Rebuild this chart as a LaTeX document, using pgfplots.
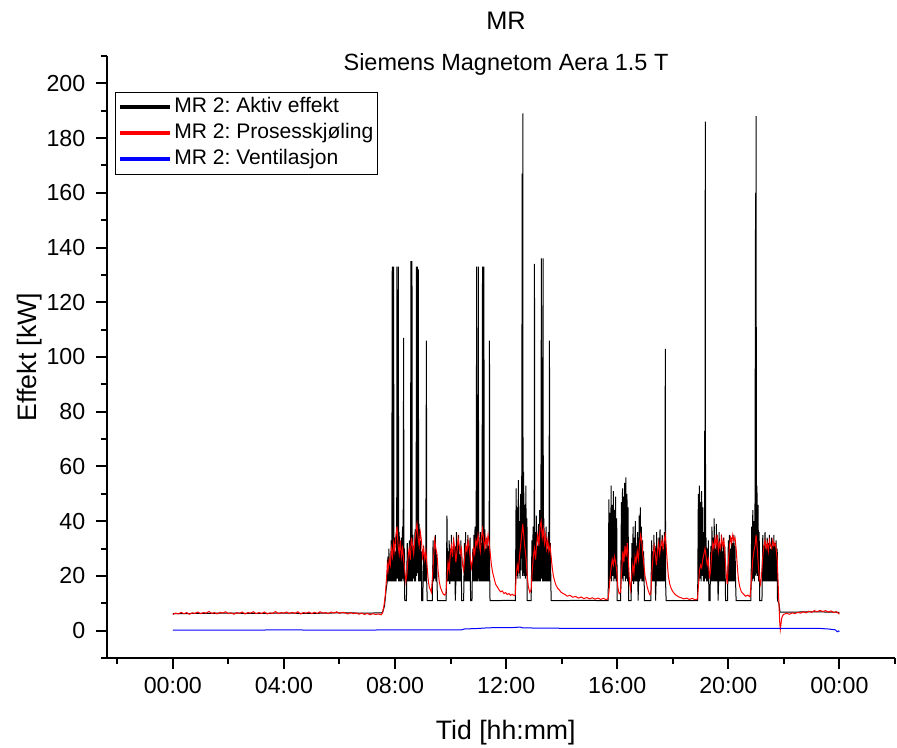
\documentclass[border=0pt]{standalone}
\usepackage{fontspec}
\setmainfont{Liberation Sans}
\usepackage{pgfplots}
\pgfplotsset{compat=1.18}
\frenchspacing

\begin{document}
\begin{tikzpicture}
\useasboundingbox (0,0) rectangle (672.75pt,560.25pt);
% titles
\node[anchor=base, font=\fontsize{19}{22}\selectfont] at (379.5pt,537.75pt) {MR};
\node[anchor=base, font=\fontsize{17.6}{20}\selectfont] at (379.5pt,507pt) {Siemens Magnetom Aera 1.5 T};
\begin{axis}[
    at={(80.25pt,66.75pt)}, anchor=south west,
    scale only axis, width=591pt, height=451.5pt,
    xmin=-2.37, xmax=26, ymin=-10, ymax=210,
    axis lines=left,
    axis line style={-, line width=1.5pt},
    tick style={line width=1.5pt, black},
    tick align=outside,
    major tick length=8.25pt, minor tick length=4.5pt,
    xtick={0,4,...,24},
    xticklabels={00:00,04:00,08:00,12:00,16:00,20:00,00:00},
    minor xtick={-2,2,6,10,14,18,22,26},
    ytick={0,20,...,200},
    minor ytick={-10,10,...,210},
    tick label style={font=\fontsize{17.4}{20}\selectfont},
    xticklabel style={yshift=-3pt},
    yticklabel style={xshift=-4.5pt},
    /pgf/number format/assume math mode=true,
    xlabel={Tid [hh:mm]},
    ylabel={Effekt [kW]},
    label style={font=\fontsize{20}{24}\selectfont},
    xlabel style={at={(axis description cs:0.506,-0.136)}, anchor=base},
    ylabel style={at={(axis description cs:-0.090,0.5)}, anchor=base},
    legend style={at={(axis description cs:0.0102,0.941)}, anchor=north west,
        draw=black, line width=0.9pt, inner sep=1.5pt,
        font=\fontsize{15.8}{19}\selectfont,
        /tikz/column sep=0pt,
        nodes={text height=11.5pt, text depth=3.5pt, inner ysep=2.25pt, inner xsep=1.5pt}},
    legend cell align=left,
    legend image code/.code={\draw[#1, line width=3pt] (0pt,0pt) -- (38pt,0pt);},
]

% MR 2: Aktiv effekt
\addplot[black, line width=0.75pt] coordinates {
(0,6.2) (1,6.3) (2,6.4) (3,6.3) (4,6.4) (5,6.3) (6,6.5) (7,6.4) (7.5,6.5) (7.55,6.6)
(7.62,9) (7.68,15) (7.72,18)
(7.74,27) (7.76,18) (7.78,30) (7.80,18) (7.82,25) (7.84,18) (7.86,33) (7.88,18) (7.90,133) (7.91,18) (7.93,31) (7.95,133) (7.96,18) (7.98,34) (8.00,18) (8.02,29) (8.04,18) (8.06,31) (8.07,133) (8.08,19) (8.10,32) (8.12,133) (8.13,18) (8.15,36) (8.17,18) (8.19,30) (8.21,18) (8.23,34) (8.25,18) (8.27,38) (8.29,19) (8.31,107) (8.32,18) (8.34,30) (8.35,11) (8.41,11)
(8.42,18) (8.44,32) (8.46,18) (8.48,28) (8.50,18) (8.52,33) (8.54,18) (8.56,30) (8.57,135) (8.58,18) (8.60,29) (8.61,135) (8.62,18) (8.64,35) (8.66,19) (8.68,31) (8.70,18) (8.72,37) (8.74,18) (8.76,30) (8.77,133) (8.78,20) (8.80,133) (8.81,21) (8.83,33) (8.84,132) (8.85,18) (8.87,39) (8.89,18) (8.91,33) (8.93,18) (8.95,29) (8.96,11) (9.00,11)
(9.01,18) (9.03,31) (9.05,18) (9.07,27) (9.09,18) (9.11,30) (9.13,106) (9.14,18) (9.16,11) (9.34,11)
(9.35,18) (9.37,33) (9.39,18) (9.41,30) (9.43,19) (9.45,35) (9.47,18) (9.49,28) (9.51,18) (9.53,11) (9.84,11)
(9.85,18) (9.87,42) (9.89,18) (9.91,29) (9.93,18) (9.95,33) (9.97,17) (9.99,30) (10.01,18) (10.03,35) (10.05,18) (10.07,27) (10.09,18) (10.11,34) (10.13,18) (10.15,31) (10.17,11) (10.19,18) (10.21,36) (10.23,18) (10.25,30) (10.27,18) (10.29,35) (10.31,18) (10.33,28) (10.35,18) (10.37,33) (10.39,18) (10.40,11) (10.47,11)
(10.48,18) (10.50,32) (10.52,18) (10.54,36) (10.56,18) (10.58,29) (10.60,18) (10.62,35) (10.64,18) (10.66,31) (10.68,18) (10.70,34) (10.72,11) (10.77,11)
(10.78,18) (10.80,30) (10.82,18) (10.84,35) (10.86,18) (10.88,38) (10.90,18) (10.92,31) (10.94,133) (10.95,18) (10.97,34) (10.99,18) (11.00,133) (11.01,19) (11.03,30) (11.05,18) (11.07,36) (11.09,18) (11.11,32) (11.13,18) (11.15,133) (11.16,18) (11.18,35) (11.20,133) (11.21,18) (11.23,37) (11.25,18) (11.27,30) (11.29,18) (11.31,34) (11.33,18) (11.35,31) (11.37,18) (11.39,33) (11.40,106) (11.41,18) (11.42,11)
(11.8,11) (12.1,11.1) (12.33,11)
(12.34,20) (12.36,52) (12.38,20) (12.40,45) (12.42,19) (12.44,55) (12.46,21) (12.48,40) (12.50,19) (12.52,50) (12.54,22) (12.56,44) (12.58,167) (12.59,20) (12.60,189) (12.61,21) (12.63,58) (12.65,20) (12.67,46) (12.69,19) (12.71,53) (12.73,20) (12.75,41) (12.76,11) (12.90,11)
(12.91,18) (12.93,33) (12.95,18) (12.97,38) (12.99,18) (13.01,30) (13.02,134) (13.03,18) (13.05,36) (13.07,18) (13.09,42) (13.11,18) (13.13,31) (13.15,18) (13.17,39) (13.19,18) (13.21,44) (13.23,18) (13.25,35) (13.27,136) (13.28,19) (13.30,37) (13.31,18) (13.33,136) (13.34,18) (13.36,41) (13.38,18) (13.40,33) (13.42,18) (13.44,38) (13.46,18) (13.48,30) (13.50,18) (13.52,36) (13.54,18) (13.56,106) (13.57,18) (13.59,32) (13.61,18) (13.62,11)
(14.2,11) (14.8,11.1) (15.3,11) (15.67,11)
(15.68,18) (15.70,48) (15.72,18) (15.74,43) (15.76,19) (15.78,53) (15.80,18) (15.82,46) (15.84,20) (15.86,51) (15.88,18) (15.90,44) (15.92,19) (15.94,49) (15.96,18) (15.98,41) (16.00,11) (16.12,11)
(16.13,18) (16.15,47) (16.17,19) (16.19,52) (16.21,18) (16.23,49) (16.25,20) (16.27,54) (16.29,18) (16.31,56) (16.33,19) (16.35,50) (16.37,18) (16.39,45) (16.41,11) (16.50,11)
(16.51,18) (16.53,32) (16.55,18) (16.57,38) (16.59,17) (16.61,34) (16.63,18) (16.65,40) (16.67,18) (16.69,31) (16.71,18) (16.73,36) (16.75,11) (16.77,18) (16.79,42) (16.81,18) (16.83,45) (16.85,19) (16.87,38) (16.89,18) (16.91,33) (16.93,18) (16.95,29) (16.97,18) (16.98,11) (17.21,11)
(17.22,18) (17.24,33) (17.26,18) (17.28,29) (17.30,18) (17.32,35) (17.34,18) (17.36,31) (17.38,11) (17.40,18) (17.42,36) (17.44,18) (17.46,30) (17.48,18) (17.50,34) (17.52,18) (17.54,37) (17.56,18) (17.58,31) (17.60,18) (17.62,35) (17.64,18) (17.66,30) (17.68,18) (17.70,36) (17.72,18) (17.73,103) (17.74,18) (17.76,11)
(18.3,11) (18.89,11)
(18.90,18) (18.92,50) (18.94,18) (18.96,53) (18.98,19) (19.00,47) (19.02,18) (19.04,51) (19.06,20) (19.08,45) (19.10,18) (19.12,36) (19.14,18) (19.15,73) (19.16,20) (19.17,186) (19.18,19) (19.20,34) (19.22,18) (19.24,30) (19.26,18) (19.28,33) (19.30,11) (19.34,11)
(19.35,18) (19.37,31) (19.39,18) (19.41,38) (19.43,18) (19.45,34) (19.47,18) (19.49,41) (19.51,18) (19.53,30) (19.55,18) (19.57,39) (19.59,18) (19.61,33) (19.63,11) (19.65,18) (19.67,36) (19.69,18) (19.71,31) (19.73,18) (19.75,35) (19.77,18) (19.79,29) (19.81,18) (19.83,34) (19.85,18) (19.87,31) (19.89,18) (19.90,11) (19.97,11)
(19.98,18) (20.00,33) (20.02,18) (20.04,35) (20.06,18) (20.08,30) (20.10,18) (20.12,34) (20.14,18) (20.16,32) (20.18,18) (20.20,35) (20.22,18) (20.24,31) (20.26,18) (20.28,11)
(20.55,11) (20.81,11)
(20.82,18) (20.84,38) (20.86,18) (20.88,44) (20.90,19) (20.92,40) (20.94,18) (20.96,47) (20.98,160) (20.99,20) (21.00,188) (21.01,21) (21.03,53) (21.05,20) (21.07,46) (21.09,18) (21.11,36) (21.13,11) (21.21,11)
(21.22,18) (21.24,35) (21.26,18) (21.28,31) (21.30,18) (21.32,36) (21.34,18) (21.36,30) (21.38,18) (21.40,34) (21.42,18) (21.44,32) (21.46,18) (21.48,35) (21.50,18) (21.52,30) (21.54,18) (21.56,34) (21.58,18) (21.60,31) (21.62,18) (21.64,35) (21.66,18) (21.68,32) (21.70,18) (21.72,33) (21.74,18) (21.76,30) (21.77,11)
(21.82,10) (21.86,6.8) (22.5,6.8) (23,6.9) (23.5,6.8) (24,6.7)
};
\addlegendentry{MR 2: Aktiv effekt}

% MR 2: Prosesskjoling
\addplot[red, line width=0.75pt] coordinates {
(0,5.9) (0.1,6.4) (0.2,6.1) (0.3,6.7) (0.4,6.2) (0.5,6.6) (0.6,6.0) (0.7,6.5) (0.8,6.3) (0.9,6.8) (1.0,6.2) (1.1,6.6) (1.2,6.4) (1.3,7.0) (1.4,6.3) (1.5,6.6) (1.6,6.1) (1.7,6.7) (1.8,6.4) (1.9,6.9)
(2.0,6.2) (2.1,6.5) (2.2,6.0) (2.3,6.6) (2.4,6.3) (2.5,6.8) (2.6,6.1) (2.7,6.6) (2.8,6.4) (2.9,6.9) (3.0,6.2) (3.1,6.6) (3.2,6.3) (3.3,6.8) (3.4,6.1) (3.5,6.5) (3.6,6.3) (3.7,7.0) (3.8,6.2) (3.9,6.6)
(4.0,6.4) (4.1,6.8) (4.2,6.2) (4.3,6.7) (4.4,6.3) (4.5,6.9) (4.6,6.1) (4.7,6.6) (4.8,6.4) (4.9,6.8) (5.0,6.2) (5.1,6.7) (5.2,6.3) (5.3,6.9) (5.4,6.4) (5.5,6.6) (5.6,6.2) (5.7,6.8) (5.8,6.4) (5.9,6.9)
(6.0,6.3) (6.1,6.7) (6.2,6.5) (6.3,6.1) (6.4,6.6) (6.5,6.2) (6.6,6.5) (6.7,6.0) (6.8,6.4) (6.9,5.9) (7.0,6.3) (7.1,5.8) (7.2,6.2) (7.3,5.9) (7.4,6.1) (7.5,5.8)
(7.55,6.5) (7.60,9) (7.65,13) (7.70,20) (7.72,24) (7.75,22)
(7.79,26) (7.83,24) (7.87,30) (7.91,27) (7.95,32) (7.99,29) (8.03,35) (8.07,38) (8.11,31) (8.15,28) (8.19,33) (8.23,27) (8.27,30) (8.31,26) (8.35,22) (8.39,18) (8.43,21) (8.47,27) (8.51,30) (8.55,26) (8.59,34) (8.63,31) (8.67,28) (8.71,33) (8.75,36) (8.79,39) (8.83,34) (8.87,31) (8.91,36) (8.95,33) (8.99,27) (9.03,30) (9.07,26) (9.11,29) (9.15,24) (9.19,19) (9.23,16) (9.27,15) (9.31,14) (9.35,20) (9.39,27) (9.43,33) (9.47,30) (9.51,28) (9.55,22) (9.59,18) (9.63,16) (9.68,14.5) (9.73,13.5) (9.78,13) (9.83,13.5)
(9.87,19) (9.91,25) (9.95,22) (9.99,28) (10.03,31) (10.07,27) (10.11,33) (10.15,30) (10.19,25) (10.23,29) (10.27,34) (10.31,31) (10.35,28) (10.39,30) (10.43,24) (10.47,22) (10.51,27) (10.55,31) (10.59,29) (10.63,33) (10.67,30) (10.71,26) (10.75,23) (10.79,26) (10.83,30) (10.87,28) (10.91,33) (10.95,31) (10.99,35) (11.03,32) (11.07,29) (11.11,34) (11.15,37) (11.19,33) (11.23,30) (11.27,34) (11.31,31) (11.35,35) (11.39,32)
(11.43,28) (11.47,24) (11.52,21) (11.57,19) (11.62,17) (11.68,16) (11.74,15) (11.80,14.2) (11.86,14.5) (11.92,13.6) (11.98,13.9) (12.04,13.2) (12.10,13.6) (12.16,12.9) (12.22,13.3) (12.28,12.8) (12.33,13.1)
(12.36,20) (12.40,24) (12.44,22) (12.48,27) (12.52,31) (12.56,35) (12.60,39) (12.64,34) (12.68,30) (12.72,26) (12.76,20) (12.80,16) (12.85,14) (12.90,15) (12.94,22) (12.98,27) (13.02,30) (13.06,26) (13.10,32) (13.14,35) (13.18,31) (13.22,38) (13.26,40) (13.30,34) (13.34,37) (13.38,32) (13.42,35) (13.46,30) (13.50,33) (13.54,29) (13.58,31) (13.62,27)
(13.66,23) (13.70,20) (13.75,18) (13.80,16.5) (13.86,15.4) (13.92,14.8) (13.98,14) (14.05,13.6) (14.12,13.2) (14.2,12.6) (14.3,12.9) (14.4,12.2) (14.5,12.5) (14.6,11.9) (14.7,12.3) (14.8,11.7) (14.9,12.1) (15.0,11.6) (15.1,12.0) (15.2,11.5) (15.3,11.9) (15.4,11.4) (15.5,11.8) (15.6,11.3) (15.67,11.7)
(15.70,14) (15.74,19) (15.78,23) (15.82,26) (15.86,24) (15.90,27) (15.94,25) (15.98,22) (16.02,16) (16.07,13.5) (16.12,14) (16.16,22) (16.20,29) (16.24,25) (16.28,31) (16.32,27) (16.36,32) (16.40,26) (16.44,18) (16.48,15) (16.52,20) (16.56,24) (16.60,21) (16.64,27) (16.68,25) (16.72,29) (16.76,26) (16.80,31) (16.84,35) (16.88,33) (16.92,28) (16.96,24) (17.00,20) (17.04,18) (17.08,16) (17.12,14.5) (17.17,13.2) (17.21,13.5) (17.25,22) (17.29,27) (17.33,31) (17.37,28) (17.41,24) (17.45,29) (17.49,32) (17.53,28) (17.57,31) (17.61,33) (17.65,30) (17.69,33) (17.73,35) (17.76,31)
(17.80,25) (17.84,20) (17.89,17) (17.95,15.2) (18.02,14) (18.1,13.1) (18.2,12.4) (18.3,12.0) (18.4,11.6) (18.5,11.9) (18.6,11.4) (18.7,11.8) (18.8,11.3) (18.89,11.6)
(18.92,16) (18.96,22) (19.00,24) (19.04,23) (19.08,26) (19.12,28) (19.16,30) (19.20,27) (19.24,24) (19.28,26) (19.32,19) (19.36,22) (19.40,28) (19.44,32) (19.48,30) (19.52,34) (19.56,31) (19.60,35) (19.64,29) (19.68,32) (19.72,30) (19.76,34) (19.80,31) (19.84,33) (19.88,28) (19.92,21) (19.96,17) (20.00,25) (20.04,31) (20.08,34) (20.12,32) (20.16,35) (20.20,33) (20.24,34) (20.28,30)
(20.32,24) (20.36,19) (20.41,16) (20.47,14.2) (20.54,13.4) (20.62,12.6) (20.70,13.0) (20.78,12.3)
(20.84,20) (20.88,26) (20.92,29) (20.96,31) (21.00,35) (21.04,30) (21.08,24) (21.12,19) (21.16,17) (21.20,21) (21.24,27) (21.28,31) (21.32,33) (21.36,30) (21.40,32) (21.44,29) (21.48,33) (21.52,31) (21.56,30) (21.60,33) (21.64,31) (21.68,32) (21.72,30) (21.76,26) (21.79,18) (21.82,10) (21.85,3) (21.87,0.4) (21.89,2) (21.92,4.5) (21.96,5.6) (22.0,6.0)
(22.1,6.3) (22.2,6.0) (22.3,6.5) (22.4,6.2) (22.5,6.7) (22.6,6.4) (22.7,6.9) (22.8,6.5) (22.9,7.1) (23.0,6.7) (23.1,7.3) (23.2,6.9) (23.3,7.4) (23.4,7.0) (23.5,7.3) (23.6,6.8) (23.7,7.2) (23.8,6.6) (23.9,6.9) (24.0,6.0)
};
\addlegendentry{MR 2: Prosesskjøling}

% MR 2: Ventilasjon
\addplot[blue, line width=0.75pt] coordinates {
(0,0.2) (2,0.2) (4,0.25) (6,0.2) (8,0.25) (10,0.3) (10.4,0.3) (10.5,0.6) (11,0.8) (11.3,1.0) (11.6,1.1) (12.2,1.1) (12.5,1.3) (12.6,1.0) (13.5,0.9) (15,0.8) (18,0.8) (21,0.8) (22,0.8) (23.3,0.8) (23.6,0.6) (23.85,0.3) (23.92,-0.4) (23.97,-0.1) (24.0,-0.3)
};
\addlegendentry{MR 2: Ventilasjon}

\end{axis}
\end{tikzpicture}
\end{document}
